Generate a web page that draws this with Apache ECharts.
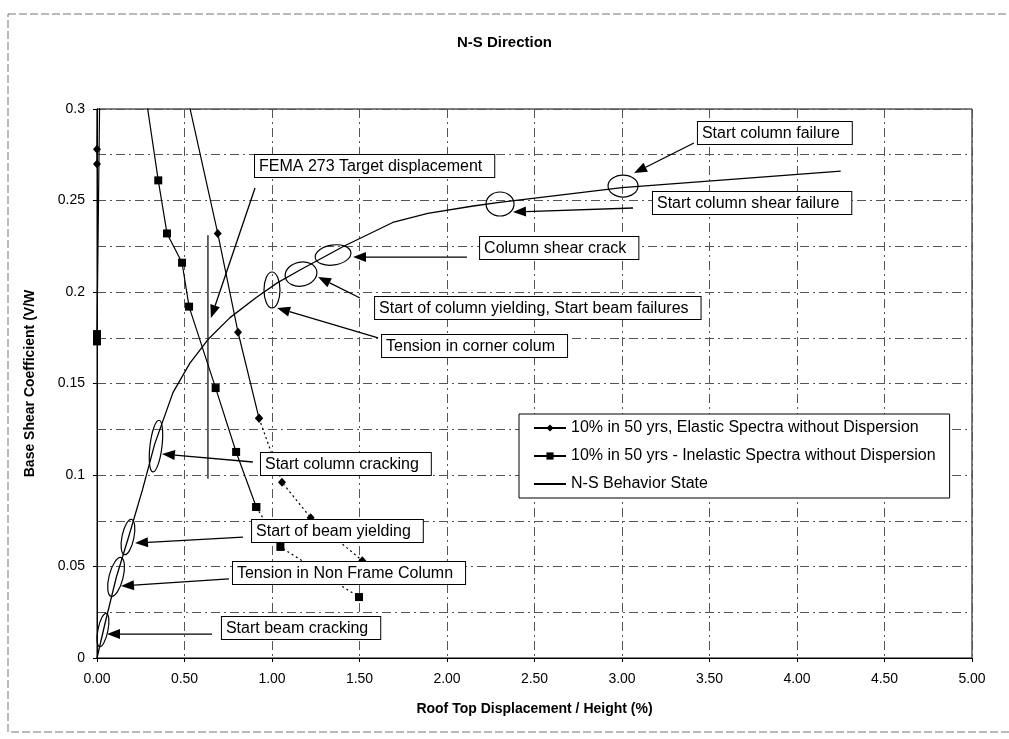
<!DOCTYPE html>
<html>
<head>
<meta charset="utf-8">
<title>N-S Direction</title>
<script src="https://cdn.jsdelivr.net/npm/echarts@6/dist/echarts.min.js"></script>
<style>
  html, body { margin: 0; padding: 0; background: #fff; }
  #chart { width: 1009px; height: 739px; }
</style>
</head>
<body>
<div id="chart"></div>
<script>
// tick labels
const xTickLabels = ['0.00', '0.50', '1.00', '1.50', '2.00', '2.50', '3.00', '3.50', '4.00', '4.50', '5.00']
const yTickLabels = ['0', '0.05', '0.1', '0.15', '0.2', '0.25', '0.3']

// 10% in 50 yrs, elastic spectra (first points run above the plot top)
const elasticX = [0, 0, 0.05, 0.40, 0.69, 0.806, 0.926]
const elasticY = [0.270, 0.278, 0.75, 0.357, 0.232, 0.178, 0.131]
const elasticTailX = [0.926, 1.057, 1.221, 1.516]
const elasticTailY = [0.131, 0.096, 0.0767, 0.0532]

// 10% in 50 yrs, inelastic spectra
const inelasticX = [0, 0, 0.05, 0.20, 0.35, 0.40, 0.486, 0.526, 0.678, 0.795, 0.91]
const inelasticY = [0.173, 0.177, 0.6, 0.358, 0.261, 0.232, 0.216, 0.192, 0.1475, 0.1126, 0.0825]
const inelasticTailX = [0.91, 1.048, 1.497]
const inelasticTailY = [0.0825, 0.0607, 0.0333]

// N-S behavior state (pushover curve)
const behaviorX = [0, 0.046, 0.11, 0.18, 0.26, 0.33, 0.434, 0.53, 0.634, 0.76, 0.91, 1.03, 1.16, 1.41, 1.69, 1.89, 2.15, 2.30, 3.0, 4.25]
const behaviorY = [0, 0.019, 0.044, 0.066, 0.092, 0.117, 0.145, 0.161, 0.174, 0.186, 0.197, 0.205, 0.212, 0.225, 0.238, 0.243, 0.247, 0.249, 0.257, 0.266]

// FEMA 273 target displacement marker
const femaX = [0.634, 0.634]
const femaY = [0.098, 0.231]

// annotation notes, all points in data units: box top-left, arrow tail, arrow head, ellipse centre
const noteText = [
  'Start beam cracking',
  'Tension in Non Frame Column',
  'Start of beam yielding',
  'Start column cracking',
  'Tension in corner colum',
  'Start of column yielding, Start beam failures',
  'Column shear crack',
  'Start column shear failure',
  'Start column failure',
  'FEMA 273 Target displacement'
]
const noteBox = [[0.714, 0.0224], [0.777, 0.0525], [0.886, 0.0754], [0.937, 0.112], [1.629, 0.1765], [1.589, 0.1973], [2.189, 0.23], [3.177, 0.2546], [3.434, 0.2929], [0.903, 0.2749]]
const noteTail = [[0.657, 0.0131], [0.754, 0.0432], [0.834, 0.0661], [0.891, 0.1071], [1.606, 0.1749], [1.503, 0.1967], [2.114, 0.2191], [3.063, 0.2459], [3.411, 0.2814], [0.903, 0.2568]]
const noteHead = [[0.057, 0.0131], [0.137, 0.0393], [0.217, 0.0628], [0.371, 0.1115], [1.029, 0.1913], [1.263, 0.2082], [1.463, 0.2191], [2.377, 0.2437], [3.069, 0.265], [0.651, 0.1858]]
const ringAt = [[0.034, 0.0153], [0.109, 0.0443], [0.177, 0.0661], [0.337, 0.1158], [1.0, 0.2011], [1.166, 0.2098], [1.349, 0.2202], [2.303, 0.2481], [3.006, 0.2579], null]
const ringSize = [[5, 17, -0.2], [7, 20, -0.25], [6, 18, -0.2], [6, 26, -0.12], [8, 18, 0], [16, 12, 0.2], [18, 10, 0.15], [14, 12, 0], [15, 11, 0], null]

const pairs = (xs, ys) => xs.map((x, i) => [x, ys[i]])
const FONT = 'Liberation Sans, Arial, sans-serif'

const chart = echarts.init(document.getElementById('chart'))

chart.setOption({
  backgroundColor: '#fff',
  animation: false,
  title: {
    text: 'N-S Direction',
    left: 'center',
    top: 30,
    textStyle: { fontSize: 15, fontWeight: 'bold', color: '#000', fontFamily: FONT }
  },
  legend: {
    orient: 'vertical',
    left: 519,
    top: 414,
    data: [
      '10% in 50 yrs, Elastic Spectra without Dispersion',
      '10% in 50 yrs - Inelastic Spectra without Dispersion',
      { name: 'N-S Behavior State', itemStyle: { opacity: 0 } }
    ],
    backgroundColor: '#fff',
    borderColor: '#000',
    borderWidth: 1,
    borderRadius: 0,
    padding: [6, 14, 6, 14],
    itemGap: 12,
    itemWidth: 32,
    itemHeight: 9,
    textStyle: { fontSize: 16, color: '#000', fontFamily: FONT }
  },
  grid: {
    left: 97,
    right: 37,
    top: 109,
    bottom: 81,
    show: true,
    borderColor: '#000',
    borderWidth: 1
  },
  xAxis: {
    type: 'value',
    min: 0,
    max: 5,
    interval: 0.5,
    name: 'Roof Top Displacement / Height (%)',
    nameLocation: 'middle',
    nameGap: 44,
    nameTextStyle: { fontSize: 14, fontWeight: 'bold', color: '#000', fontFamily: FONT },
    axisLine: { lineStyle: { color: '#000', width: 1 } },
    axisTick: { show: true, length: 4, inside: false, lineStyle: { color: '#000' } },
    axisLabel: {
      fontSize: 14,
      color: '#000',
      fontFamily: FONT,
      margin: 14,
      formatter: v => xTickLabels[Math.round(v / 0.5)]
    },
    splitLine: { show: true, lineStyle: { color: '#555', type: [9, 4, 2, 4], width: 1 } }
  },
  yAxis: {
    type: 'value',
    min: 0,
    max: 0.3,
    interval: 0.05,
    name: 'Base Shear Coefficient (V/W',
    nameLocation: 'middle',
    nameGap: 60,
    nameTextStyle: { fontSize: 14, fontWeight: 'bold', color: '#000', fontFamily: FONT },
    axisLine: { show: true, lineStyle: { color: '#000', width: 1 } },
    axisTick: { show: true, length: 4, lineStyle: { color: '#000' } },
    minorTick: { show: false, splitNumber: 2 },
    minorSplitLine: { show: true, lineStyle: { color: '#555', type: [9, 4, 2, 4], width: 1 } },
    axisLabel: {
      fontSize: 14,
      color: '#000',
      fontFamily: FONT,
      margin: 12,
      formatter: v => yTickLabels[Math.round(v / 0.05)]
    },
    splitLine: { show: true, lineStyle: { color: '#555', type: [9, 4, 2, 4], width: 1 } }
  },
  series: [
    {
      name: '10% in 50 yrs, Elastic Spectra without Dispersion',
      type: 'line',
      data: pairs(elasticX, elasticY),
      symbol: 'diamond',
      symbolSize: [8, 9],
      showAllSymbol: true,
      clip: true,
      itemStyle: { color: '#000' },
      lineStyle: { color: '#000', width: 1.2 },
      z: 3
    },
    {
      name: '10% in 50 yrs, Elastic Spectra without Dispersion',
      type: 'line',
      data: pairs(elasticTailX, elasticTailY),
      symbol: 'diamond',
      symbolSize: [8, 9],
      itemStyle: { color: '#000' },
      lineStyle: { color: '#000', width: 1.2, type: [2, 3] },
      z: 3
    },
    {
      name: '10% in 50 yrs - Inelastic Spectra without Dispersion',
      type: 'line',
      data: pairs(inelasticX, inelasticY),
      symbol: 'rect',
      symbolSize: 8,
      showAllSymbol: true,
      clip: true,
      itemStyle: { color: '#000' },
      lineStyle: { color: '#000', width: 1.2 },
      z: 3
    },
    {
      name: '10% in 50 yrs - Inelastic Spectra without Dispersion',
      type: 'line',
      data: pairs(inelasticTailX, inelasticTailY),
      symbol: 'rect',
      symbolSize: 8,
      itemStyle: { color: '#000' },
      lineStyle: { color: '#000', width: 1.2, type: [2, 3] },
      z: 3
    },
    {
      name: 'N-S Behavior State',
      type: 'line',
      data: pairs(behaviorX, behaviorY),
      symbol: 'none',
      itemStyle: { color: '#000' },
      lineStyle: { color: '#000', width: 1.3 },
      z: 3
    },
    {
      name: 'FEMA 273',
      type: 'line',
      data: pairs(femaX, femaY),
      symbol: 'none',
      lineStyle: { color: '#000', width: 1.2 },
      z: 3
    }
  ]
})

// annotations: text boxes, arrows and ellipses placed through the grid's own scales
function drawNotes() {
  const px = p => chart.convertToPixel({ gridIndex: 0 }, p)
  const els = [{
    type: 'rect',
    silent: true,
    z: -10,
    shape: { x: 8, y: 14, width: 1005, height: 718 },
    style: { fill: 'none', stroke: '#777', lineWidth: 1, lineDash: [8, 3] }
  }]
  noteText.forEach((text, i) => {
    const box = px(noteBox[i])
    const tail = px(noteTail[i])
    const head = px(noteHead[i])
    els.push({
      type: 'text',
      z: 120,
      x: box[0],
      y: box[1],
      style: {
        text: text,
        font: '16px ' + FONT,
        fill: '#000',
        backgroundColor: '#fff',
        borderColor: '#000',
        borderWidth: 1,
        padding: [3, 12, 2, 4],
        lineHeight: 17
      }
    })
    // arrow shaft and filled head
    const dx = head[0] - tail[0]
    const dy = head[1] - tail[1]
    const len = Math.sqrt(dx * dx + dy * dy)
    const ux = dx / len
    const uy = dy / len
    const hl = 13
    const hw = 5
    const bx = head[0] - ux * hl
    const by = head[1] - uy * hl
    els.push({
      type: 'line',
      z: 110,
      shape: { x1: tail[0], y1: tail[1], x2: bx, y2: by },
      style: { stroke: '#000', lineWidth: 1.3 }
    })
    els.push({
      type: 'polygon',
      z: 110,
      shape: { points: [head, [bx - uy * hw, by + ux * hw], [bx + uy * hw, by - ux * hw]] },
      style: { fill: '#000' }
    })
    if (ringAt[i]) {
      const c = px(ringAt[i])
      els.push({
        type: 'ellipse',
        z: 110,
        x: c[0],
        y: c[1],
        rotation: ringSize[i][2],
        shape: { cx: 0, cy: 0, rx: ringSize[i][0], ry: ringSize[i][1] },
        style: { fill: 'none', stroke: '#000', lineWidth: 1.2 }
      })
    }
  })
  chart.setOption({ graphic: els })
}
drawNotes()
</script>
</body>
</html>
